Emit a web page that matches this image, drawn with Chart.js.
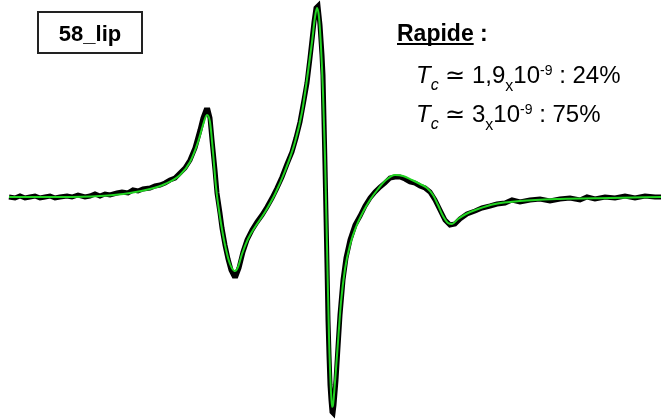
<!DOCTYPE html>
<html>
<head>
<meta charset="utf-8">
<script src="https://cdn.jsdelivr.net/npm/chart.js@4"></script>
<style>
body{margin:0;background:#fff}
#wrap{width:661px;height:419px;position:relative}
</style>
</head>
<body>
<div id="wrap"><canvas id="chart"></canvas></div>
<script>

// spectre experimental (champ, intensite)
const champExp = [9,15,20,25,30,35,40,45,50,55,60,67,72,78,85,90,95,100,105,110,117,122,128,133,138,143,150,155,160,165,170,175,180,185,190,195,200,203,206,208,210,212,215,217,220,222,225,228,231,234,236,239,243,247,252,257,262,267,272,277,282,287,292,296,300,304,307,310,312,314,316,318,320,322,323,324,325,326,327,328,329,330,331,332,333,334,336,338,340,343,346,350,355,360,365,370,375,380,385,390,395,400,405,410,415,420,425,430,435,440,445,450,455,460,467,475,482,490,497,505,512,520,530,540,550,560,570,580,587,595,605,615,625,635,645,655,661]
const signalExp = [0,-1,1,-1,0,1,-1,0,1,-1,0,1,0,2,0,1,3,1,3,2,4,5,4,7,6,8,9,11,12,14,17,19,24,29,37,49,67,79,87,87,79,57,27,4,-16,-31,-48,-62,-73,-79,-79,-71,-55,-43,-33,-25,-18,-10,-1,9,20,33,45,59,75,97,114,139,157,175,189,191,172,142,122,77,32,-18,-68,-123,-158,-188,-203,-215,-216,-208,-183,-150,-118,-83,-61,-43,-28,-19,-9,-1,5,10,14,19,20,20,18,15,14,11,9,5,-3,-13,-23,-28,-27,-22,-17,-14,-11,-9,-7,-6,-3,-5,-3,-2,-4,-2,-1,-3,0,-2,0,-1,1,-1,1,0,0]

// simulation
const champFit = [9,60,100,130,150,165,180,190,198,203,207,210,213,216,220,225,230,235,238,242,248,255,265,275,285,295,302,308,312,315,317,319,321,323,325,327,329,331,332,333,335,338,341,345,350,356,363,370,378,386,395,403,412,420,427,433,438,443,448,452,458,466,478,495,520,560,610,661]
const signalFit = [0,0,1,4,8,13,22,35,55,72,82,75,45,10,-20,-48,-67,-74,-70,-57,-42,-30,-15,3,26,55,85,125,155,180,189,180,150,105,40,-50,-140,-195,-210,-208,-185,-145,-105,-72,-48,-30,-15,-3,8,17,22,21,17,13,9,2,-8,-19,-26,-27,-22,-17,-12,-7,-4,-2,-1,0]

const etiquette = "58_lip"
const titre = "Rapide"
const lignes = [
  [["T","i"],["c","isub"],[" \u2243 ","n"],["1,9","n"],["x","sub"],["10","n"],["-9","sup"],[" : 24%","n"]],
  [["T","i"],["c","isub"],[" \u2243 ","n"],["3","n"],["x","sub"],["10","n"],["-9","sup"],[" : 75%","n"]]
]

const fam = '"Liberation Sans", Arial, sans-serif'

function ecrireLigne(ctx,runs,x,y){
  runs.forEach(([t,s])=>{
    let size=24, dy=0, it=false
    if(s=="i") it=true
    if(s=="isub"){it=true;size=16;dy=7}
    if(s=="sub"){size=16;dy=8}
    if(s=="sup"){size=14;dy=-8}
    ctx.font=(it?"italic ":"")+size+"px "+fam
    ctx.fillText(t,x,y+dy)
    x+=ctx.measureText(t).width
  })
}

const textes = {
  id:"textes",
  afterDraw(chart){
    const ctx=chart.ctx
    ctx.save()
    ctx.fillStyle="#000"
    ctx.strokeStyle="#222"
    ctx.lineWidth=2
    ctx.strokeRect(38,12,104,41)
    ctx.font="bold 22px "+fam
    ctx.textAlign="center"
    ctx.textBaseline="alphabetic"
    ctx.fillText(etiquette,90,41)
    ctx.textAlign="left"
    ctx.font="bold 23px "+fam
    ctx.fillText(titre,397,41)
    const w=ctx.measureText(titre).width
    ctx.fillRect(397,43,w,2)
    ctx.fillText(" :",397+w,41)
    ecrireLigne(ctx,lignes[0],416,83)
    ecrireLigne(ctx,lignes[1],416,122)
    ctx.restore()
  }
}

const chart = new Chart(document.getElementById("chart"),{
  type:"line",
  data:{
    datasets:[
      {
        label:"simulation",
        data:champFit.map((x,i)=>({x,y:signalFit[i]})),
        borderColor:"#22d422",
        borderWidth:2,
        pointRadius:0,
        cubicInterpolationMode:"monotone",
        order:0
      },
      {
        label:"experience",
        data:champExp.map((x,i)=>({x,y:signalExp[i]})),
        borderColor:"#000",
        borderWidth:5,
        pointRadius:0,
        tension:0,
        order:1
      }
    ]
  },
  options:{
    responsive:true,
    maintainAspectRatio:false,
    animation:false,
    layout:{padding:0},
    plugins:{legend:{display:false},tooltip:{enabled:false}},
    scales:{
      x:{type:"linear",min:0,max:661,display:false},
      y:{min:-222,max:197,display:false}
    }
  },
  plugins:[textes]
})
</script>
</body>
</html>
